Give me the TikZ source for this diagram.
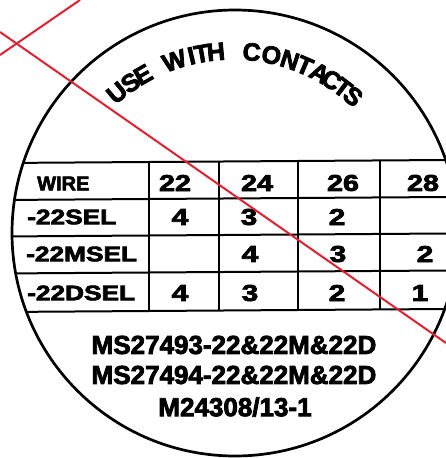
\documentclass[tikz,border=0pt]{standalone}
\usepackage{fontspec}
\usepackage{graphicx}
\setmainfont{Liberation Sans}
\newfontfamily\heavy{Liberation Sans}[FakeBold=3]
\definecolor{redline}{RGB}{226,32,48}
\newcommand\xstretch[2]{\scalebox{#1}[1]{#2}}
\begin{document}
\begin{tikzpicture}[x=1pt,y=1pt,
  ring/.style={line width=2.7pt},
  rule/.style={line width=2pt},
  crossline/.style={draw=redline, line width=2pt},
  arcletter/.style={font=\heavy\bfseries\fontsize{25}{30}\selectfont, inner sep=0pt},
  cell/.style={font=\heavy\bfseries\fontsize{23}{27}\selectfont, inner sep=0pt},
  rowlab/.style={font=\heavy\bfseries\fontsize{21}{25}\selectfont, inner sep=0pt, anchor=west},
  partno/.style={font=\heavy\bfseries\fontsize{26}{30}\selectfont, inner sep=0pt}
]
\useasboundingbox (0,0) rectangle (446,-458);
\clip (0,0) rectangle (446,-458);
\fill[white] (0,0) rectangle (446,-458);
\coordinate (c) at (235,-233);
\draw[ring] (c) circle[radius=223pt];

% table rules
\begin{scope}
  \clip (c) circle[radius=222pt];
  \foreach \ya/\yb in {163/160,200/197,236.5/233.5,273.5/270.5,312/309}
    \draw[rule] (0,-\ya) -- (446,-\yb);
\end{scope}
\foreach \x in {149,219,298,380}
  \draw[rule] (\x,{-163+3*\x/446}) -- (\x,{-312+3*\x/446});

% curved heading
\begin{scope}[shift={(233,-233)}]
  \foreach \l/\a [count=\i] in {U/129.6,S/124.3,E/119.6,W/108.8,I/103.2,T/99.9,H/95.4,C/84.1,O/77.8,N/71.8,T/66.8,A/61.6,C/57.2,T/52.9,S/48.7}
    \node[arcletter, rotate=\a-90] (arc\i) at (\a:182) {\l};
\end{scope}

% row labels
\node[rowlab, font=\heavy\bfseries\fontsize{20}{24}\selectfont] (wire) at (37,-183.5) {WIRE};
\node[rowlab] (sel) at (27,-217) {\xstretch{1.25}{-22SEL}};
\node[rowlab] (msel) at (26,-254) {\xstretch{1.25}{-22MSEL}};
\node[rowlab] (dsel) at (27,-293) {\xstretch{1.25}{-22DSEL}};

% header
\node[cell] (h22) at (175,-183) {\xstretch{1.25}{22}};
\node[cell] (h24) at (257,-183) {\xstretch{1.25}{24}};
\node[cell] (h26) at (343,-183) {\xstretch{1.25}{26}};
\node[cell] (h28) at (423,-183) {\xstretch{1.25}{28}};

% cells
\node[cell] (a1) at (180,-217) {\xstretch{1.3}{4}};
\node[cell] (a2) at (249,-217) {\xstretch{1.3}{3}};
\node[cell] (a3) at (337,-217) {\xstretch{1.3}{2}};
\node[cell] (b2) at (250,-254) {\xstretch{1.3}{4}};
\node[cell] (b3) at (338,-254) {\xstretch{1.3}{3}};
\node[cell] (b4) at (425,-254) {\xstretch{1.3}{2}};
\node[cell] (d1) at (180,-293) {\xstretch{1.3}{4}};
\node[cell] (d2) at (250,-293) {\xstretch{1.3}{3}};
\node[cell] (d3) at (337,-293) {\xstretch{1.3}{2}};
\node[cell] (d4) at (420,-293) {\xstretch{1.3}{1}};

% part numbers
\node[partno] (p1) at (234,-345) {MS27493-22\&22M\&22D};
\node[partno] (p2) at (234,-375) {MS27494-22\&22M\&22D};
\node[partno] (p3) at (235,-407) {M24308/13-1};

% red cross lines
\coordinate (ra) at (0,-32);
\coordinate (rb) at (446,-343);
\coordinate (rc) at (80,0);
\coordinate (rd) at (0,-55);
\draw[crossline] (ra) -- (rb);
\draw[crossline] (rc) -- (rd);
\end{tikzpicture}
\end{document}
